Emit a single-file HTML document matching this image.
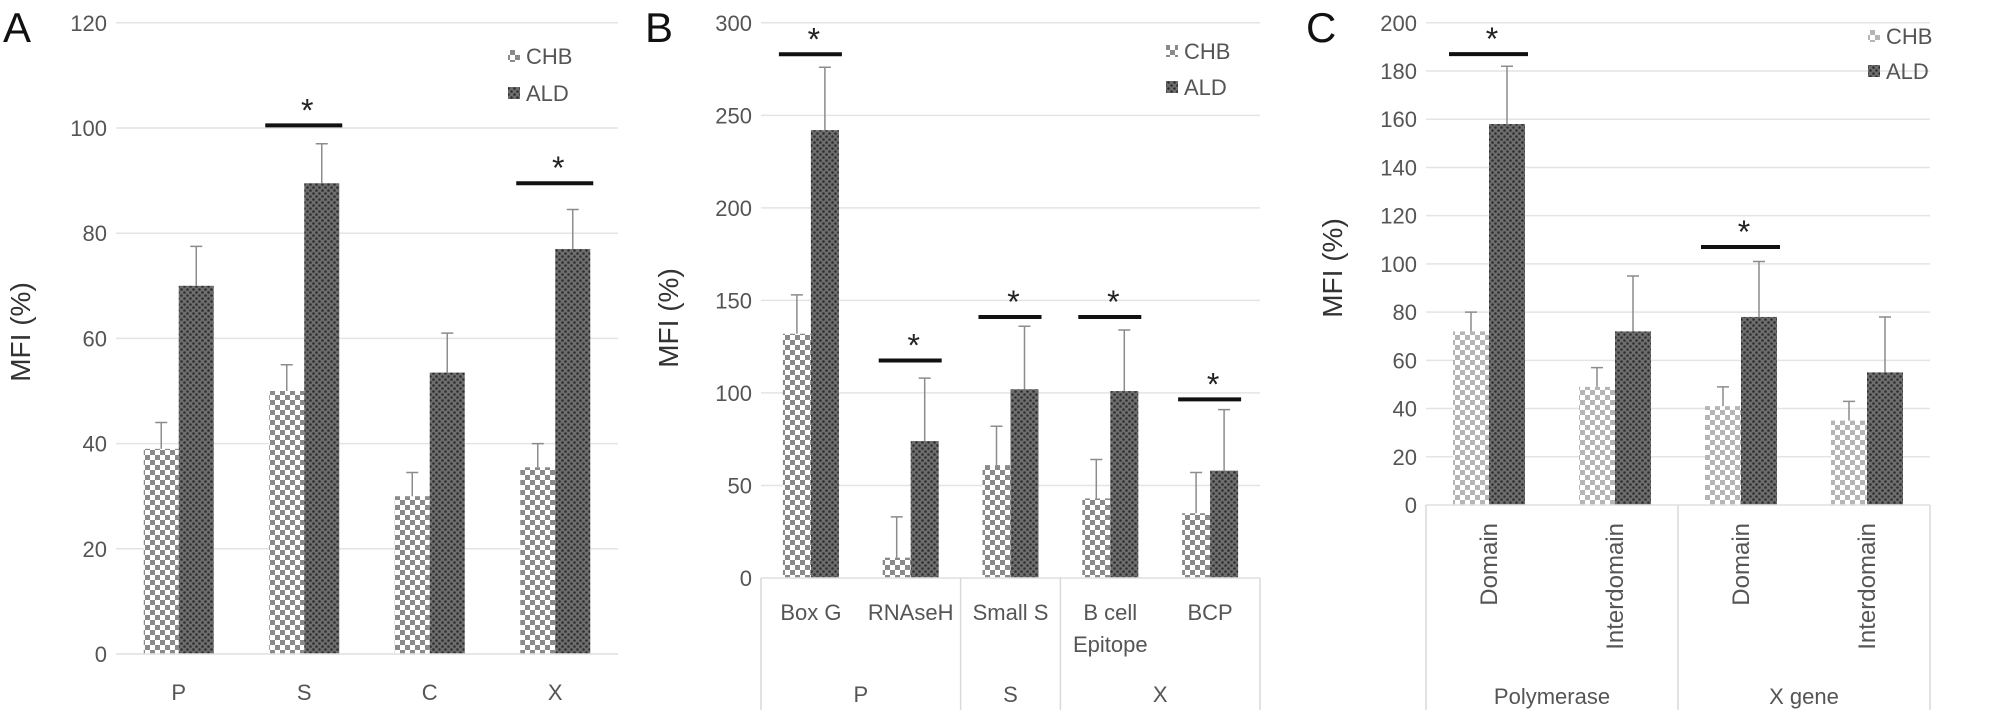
<!DOCTYPE html>
<html><head><meta charset="utf-8"><style>
html,body{margin:0;padding:0;background:#fff;}
svg{display:block;font-family:"Liberation Sans",sans-serif;}
</style></head><body>
<svg id="c" width="2008" height="710" viewBox="0 0 2008 710">
<defs>
<pattern id="chk" width="10" height="10" patternUnits="userSpaceOnUse">
<rect width="10" height="10" fill="#fff"/><rect width="5" height="5" fill="#8a8a8a"/><rect x="5" y="5" width="5" height="5" fill="#8a8a8a"/>
</pattern>
<pattern id="chkL" width="10" height="10" patternUnits="userSpaceOnUse">
<rect width="10" height="10" fill="#fff"/><rect width="5" height="5" fill="#b5b5b5"/><rect x="5" y="5" width="5" height="5" fill="#b5b5b5"/>
</pattern>
<pattern id="dot" width="6" height="6" patternUnits="userSpaceOnUse">
<rect width="6" height="6" fill="#6e6e6e"/><circle cx="1.5" cy="1.5" r="1.3" fill="#2e2e2e"/><circle cx="4.5" cy="4.5" r="1.3" fill="#2e2e2e"/>
</pattern>
</defs>
</svg>
<script>
// Panel A data
const catsA = ['P','S','C','X'];
const chbA = [39, 50, 30, 35.5];
const chbErrA = [44, 55, 34.5, 40];
const aldA = [70, 89.5, 53.5, 77];
const aldErrA = [77.5, 97, 61, 84.5];
const ticksA = [0,20,40,60,80,100,120];
const sigA = [null, 100.5, null, 89.5];
// Panel B data
const catsB = ['Box G','RNAseH','Small S','B cell|Epitope','BCP'];
const groupsB = ['P','S','X'];
const chbB = [132, 11, 61, 43, 35];
const chbErrB = [153, 33, 82, 64, 57];
const aldB = [242, 74, 102, 101, 58];
const aldErrB = [276, 108, 136, 134, 91];
const ticksB = [0,50,100,150,200,250,300];
const sigB = [283, 117.5, 141, 141, 96.5];
// Panel C data
const catsC = ['Domain','Interdomain','Domain','Interdomain'];
const groupsC = ['Polymerase','X gene'];
const chbC = [72, 49, 41, 35];
const chbErrC = [80, 57, 49, 43];
const aldC = [158, 72, 78, 55];
const aldErrC = [182, 95, 101, 78];
const ticksC = [0,20,40,60,80,100,120,140,160,180,200];
const sigC = [187, null, 107, null];

const svg = document.getElementById('c');
const NS = 'http://www.w3.org/2000/svg';
function mk(tag, attrs, parent){const e=document.createElementNS(NS,tag);for(const k in attrs)e.setAttribute(k,attrs[k]);(parent||svg).appendChild(e);return e;}
function txt(s, attrs, parent){const e=mk('text',attrs,parent);e.textContent=s;return e;}
const FS = 22;
const COL = '#555';

function panel(cfg){
  const g = mk('g',{});
  
  
  const ymax = cfg.ticks[cfg.ticks.length-1];
  const y = v => cfg.y0 - (v/ymax)*(cfg.y0-cfg.yTop);
  const n = cfg.cats.length;
  const cw = (cfg.x1-cfg.x0)/n;
  const xc = i => cfg.x0 + cw*(i+0.5);
  cfg.ticks.forEach(t=>{
    const l = mk('line',{x1:cfg.x0,x2:cfg.x1,y1:y(t),y2:y(t),stroke:'#e4e4e4','stroke-width':1.5},g);
    
    
    const tl = txt(String(t),{x:cfg.x0-9,y:y(t)+8,'text-anchor':'end','font-size':FS,fill:COL},g);
    
    
  });
  const pl = txt(cfg.letter,{x:cfg.lx,y:cfg.ly,'font-size':42,fill:'#111'},g);
  
  
  const yt = txt('MFI (%)',{x:0,y:0,'font-size':28,fill:'#333','text-anchor':'middle',transform:`translate(${cfg.tx},${cfg.ty}) rotate(-90)`},g);
  
  
  for(let i=0;i<n;i++){
    const cx = xc(i);
    const series = [[cfg.chb[i],cfg.chbErr[i],cx-cfg.bw,cfg.chbFill,'bar-chb'],[cfg.ald[i],cfg.aldErr[i],cx,'url(#dot)','bar-ald']];
    series.forEach(([v,e,bx,fill,nm])=>{
      const r = mk('rect',{x:bx,y:y(v),width:cfg.bw,height:y(0)-y(v),fill:fill},g);
      
      
      const ex = bx+cfg.bw/2;
      const el = mk('path',{d:`M${ex} ${y(v)}V${y(e)}M${ex-6} ${y(e)}H${ex+6}`,stroke:'#8c8c8c','stroke-width':1.5,fill:'none'},g);
      
      
    });
    if(cfg.sig[i]!=null){
      const sy = y(cfg.sig[i]);
      const sl = mk('line',{x1:cx-cfg.bw-4,x2:cx+cfg.bw+3,y1:sy,y2:sy,stroke:'#111','stroke-width':4},g);
      
      
      const st = txt('*',{x:cx+3,y:sy-4,'text-anchor':'middle','font-size':32,fill:'#222'},g);
      
      
    }
    if(cfg.rot){
      const cl = txt(cfg.cats[i],{x:0,y:0,'font-size':24,fill:COL,'text-anchor':'end',transform:`translate(${cx+8},${y(0)+18}) rotate(-90)`},g);
      
      
    } else {
      const parts = cfg.cats[i].split('|');
      parts.forEach((p,k)=>{
        const cl = txt(p,{x:cx,y:cfg.catY+k*32,'text-anchor':'middle','font-size':FS,fill:COL},g);
        
        
      });
    }
  }
  const ax = mk('line',{x1:cfg.x0,x2:cfg.x1,y1:y(0),y2:y(0),stroke:'#e4e4e4','stroke-width':1.5},g);
  
  
  if(cfg.groups){
    let start=0;
    const bounds=[0];
    cfg.groupSizes.forEach(s=>{start+=s;bounds.push(start);});
    bounds.forEach(b=>{
      const vx = cfg.x0 + b*cw;
      const vl = mk('line',{x1:vx,x2:vx,y1:y(0),y2:710,stroke:'#d9d9d9','stroke-width':1.5},g);
      
      
    });
    cfg.groups.forEach((gn,k)=>{
      const gx = cfg.x0 + cw*(bounds[k]+bounds[k+1])/2;
      const gl = txt(gn,{x:gx,y:cfg.groupY,'text-anchor':'middle','font-size':FS,fill:COL},g);
      
      
    });
  }
  const lg = mk('g',{},g);
  
  
  [['CHB',cfg.chbFill,0],['ALD','url(#dot)',1]].forEach(([lab,f,k])=>{
    const ly = cfg.legY + k*cfg.legGap;
    const ic = mk('rect',{x:cfg.legX,y:ly-14,width:12,height:12,fill:f},lg);
    
    
    const lt = txt(lab,{x:cfg.legX+18,y:ly,'font-size':FS,fill:COL},lg);
    
    
  });
}

panel({name:'panel-a',letter:'A',lx:3,ly:42,tx:30,ty:332,x0:116,x1:618,y0:654,yTop:22.8,ticks:ticksA,cats:catsA,chb:chbA,chbErr:chbErrA,ald:aldA,aldErr:aldErrA,sig:sigA,bw:35,chbFill:'url(#chk)',catY:700,legX:508,legY:64,legGap:37});
panel({name:'panel-b',letter:'B',lx:645,ly:42,tx:678,ty:318,x0:761,x1:1260,y0:578,yTop:22.8,ticks:ticksB,cats:catsB,chb:chbB,chbErr:chbErrB,ald:aldB,aldErr:aldErrB,sig:sigB,bw:28,chbFill:'url(#chk)',catY:620,groups:groupsB,groupSizes:[2,1,2],groupY:702,legX:1166,legY:59,legGap:36});
panel({name:'panel-c',letter:'C',lx:1306,ly:42,tx:1342,ty:268,x0:1426,x1:1930,y0:505,yTop:22.8,ticks:ticksC,cats:catsC,chb:chbC,chbErr:chbErrC,ald:aldC,aldErr:aldErrC,sig:sigC,bw:36,chbFill:'url(#chkL)',rot:true,groups:groupsC,groupSizes:[2,2],groupY:704,legX:1868,legY:44,legGap:35});
</script>
</body></html>
